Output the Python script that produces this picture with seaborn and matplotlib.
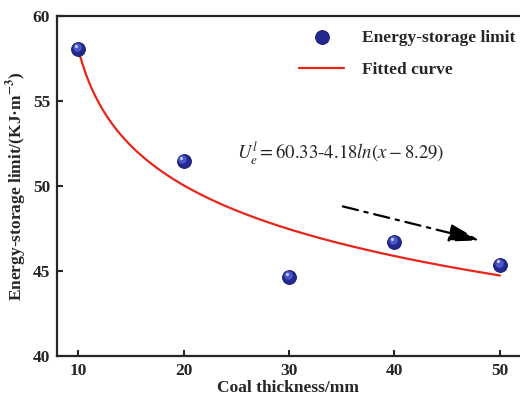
import numpy as np
import pandas as pd
import matplotlib
matplotlib.use("Agg")
import matplotlib.pyplot as plt
import seaborn as sns

# measured energy-storage limit vs coal thickness
thickness_mm = [10, 20, 30, 40, 50]
storage_limit = [58.05, 51.45, 44.65, 46.7, 45.38]

# fitted curve U = a - b*ln(x - c), coefficients as printed on the chart
fit_a, fit_b, fit_c = 60.33, 4.18, 8.29
fit_x_start, fit_x_end = 10, 50

sns.set_style("ticks")
plt.rcParams["font.family"] = ["Liberation Serif", "DejaVu Serif"]
plt.rcParams["mathtext.fontset"] = "stix"

points = pd.DataFrame({"thickness": thickness_mm, "limit": storage_limit})
fit_x = np.linspace(fit_x_start, fit_x_end, 200)
curve = pd.DataFrame({"thickness": fit_x, "limit": fit_a - fit_b * np.log(fit_x - fit_c)})

fig = plt.figure(figsize=(5.2, 3.98), dpi=100)
ax = fig.add_axes([0.1096, 0.1055, 0.8904, 0.8543])

sns.lineplot(data=curve, x="thickness", y="limit", color="#e8251c", lw=1.6,
             ax=ax, label="Fitted curve", zorder=2)
sns.scatterplot(data=points, x="thickness", y="limit", color="#22288f", s=100,
                edgecolor="#141a6a", linewidth=0.6, ax=ax,
                label="Energy-storage limit", zorder=3)
# sphere-like highlight
ax.scatter(points["thickness"] - 0.12, points["limit"] + 0.12, s=38,
           color="#4b57c8", linewidths=0, zorder=4)
ax.scatter(points["thickness"] - 0.2, points["limit"] + 0.2, s=5,
           color="#c9cdf2", linewidths=0, zorder=5)

ax.set_xlim(8, 51.9)
ax.set_ylim(40, 60)
ax.set_xticks([10, 20, 30, 40, 50])
ax.set_yticks([40, 45, 50, 55, 60])
ax.tick_params(direction="in", length=4, width=1.5, labelsize=12.5, pad=5)
for lab in ax.get_xticklabels() + ax.get_yticklabels():
    lab.set_fontweight("bold")

for side in ["left", "bottom", "top"]:
    ax.spines[side].set_linewidth(1.6)
    ax.spines[side].set_visible(True)
ax.spines["right"].set_visible(False)

ax.set_xlabel("Coal thickness/mm", fontsize=12.5, fontweight="bold", labelpad=1)
ax.set_ylabel(r"Energy-storage limit/(KJ·m$^{\mathbf{-3}}$)", fontsize=12.5,
              fontweight="bold", labelpad=3)

ax.text(25.1, 51.9, r"$U_e^l=60.33$-$4.18ln(x-8.29)$", fontsize=13.5,
        va="center", ha="left")

ax.annotate("", xy=(48.1, 46.8), xytext=(35.1, 48.8),
            arrowprops=dict(arrowstyle="-|>,head_length=0.95,head_width=0.27",
                            mutation_scale=20, shrinkA=0, shrinkB=0,
                            linestyle=(0, (7, 3, 1.5, 3)), lw=1.6, color="black"))

handles, labels = ax.get_legend_handles_labels()
order = [labels.index("Energy-storage limit"), labels.index("Fitted curve")]
leg = ax.legend([handles[i] for i in order], [labels[i] for i in order],
                loc="upper right", frameon=False, fontsize=12.5,
                bbox_to_anchor=(1.004, 0.98), handlelength=2.6, handletextpad=1.0,
                borderaxespad=0.0, labelspacing=0.9)
for t in leg.get_texts():
    t.set_fontweight("bold")

fig.savefig("out.png", dpi=100)
